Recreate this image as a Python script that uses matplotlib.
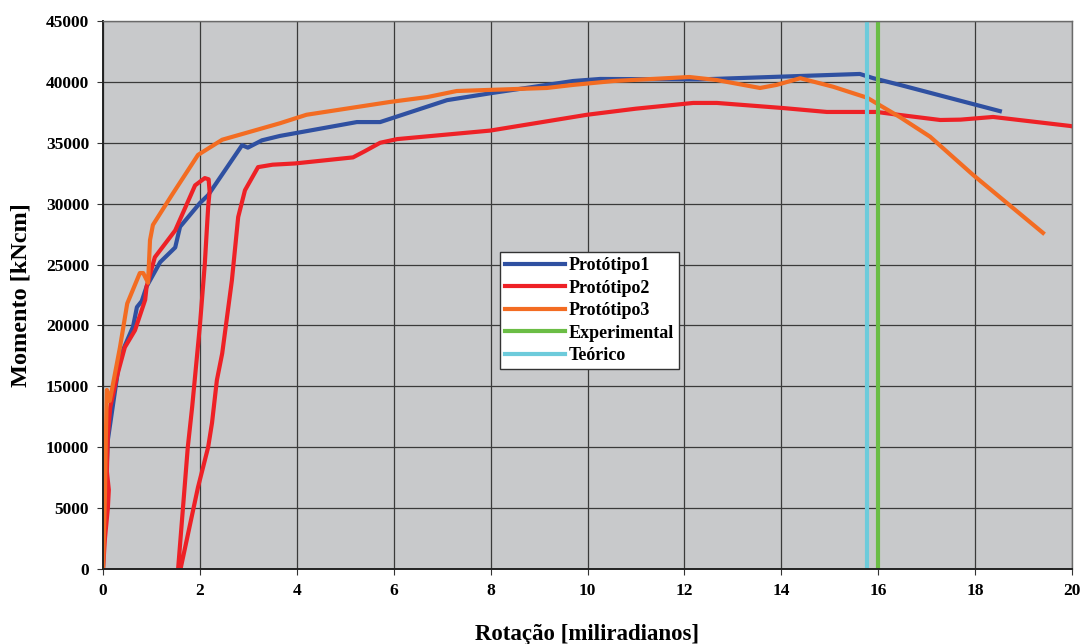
import matplotlib
matplotlib.use('Agg')
import matplotlib.pyplot as plt

# Protótipo1
p1_x = [0, 0.05, 0.1, 0.35, 0.62, 0.7, 0.8, 0.9, 1.18, 1.49, 1.59, 2.0, 2.17, 2.87, 2.99, 3.28,
        3.65, 5.24, 5.72, 7.1, 8.05, 9.7, 10.26, 12.3, 15.62, 15.9, 16.45, 18.51]
p1_y = [0, 6000, 10600, 17400, 19900, 21500, 22000, 23200, 25200, 26400, 28100, 30050, 30700, 34800, 34600, 35200,
        35560, 36700, 36700, 38500, 39100, 40070, 40240, 40200, 40650, 40300, 39750, 37600]

# Protótipo2
p2_x = [0, 0.04, 0.1, 0.12, 0.08, 0.1, 0.15, 0.3, 0.45, 0.66, 0.87, 0.9, 1.07, 1.49, 1.9, 2.1, 2.18, 2.2,
        2.17, 2.1, 2.0, 1.84, 1.75, 1.65, 1.55,
        1.6, 1.96, 2.17, 2.25, 2.35, 2.46, 2.66, 2.79, 2.93, 3.2, 3.5, 3.96,
        5.16, 5.4, 5.72, 6.07, 7.99, 9.99, 11.0, 12.18, 12.67, 14.04, 14.94, 15.97, 16.45,
        17.28, 17.7, 18.37, 19.96, 20.0]
p2_y = [0, 2500, 5000, 6500, 8000, 11000, 13300, 16000, 18200, 19600, 22100, 23200, 25600, 27800, 31500, 32100, 32000, 31000,
        29700, 25000, 20000, 13300, 10000, 5000, 0,
        0, 6700, 10000, 12000, 15500, 17700, 23700, 28900, 31100, 33000, 33200, 33300,
        33800, 34300, 35000, 35300, 36000, 37300, 37800, 38270, 38270, 37850, 37530, 37530, 37280,
        36870, 36900, 37120, 36380, 36350]

# Protótipo3
p3_x = [0, 0.04, 0.06, 0.08, 0.14, 0.35, 0.5, 0.76, 0.83, 0.93, 0.97, 1.03, 1.42, 1.96, 2.46,
        3.65, 4.2, 5.92, 6.69, 7.3, 9.16, 9.7, 10.53, 12.1, 12.67, 13.56, 13.9, 14.39, 15.07, 15.77,
        16.45, 17.07, 17.96, 19.4]
p3_y = [0, 6000, 11000, 14700, 13800, 18200, 21800, 24300, 24300, 23500, 27000, 28250, 30700, 34000, 35250,
        36600, 37300, 38350, 38750, 39250, 39500, 39750, 40070, 40400, 40150, 39500, 39750, 40300, 39600, 38700,
        37100, 35500, 32350, 27600]

x_experimental = 16.0
x_teorico = 15.77

x_ticks = list(range(0, 21, 2))
y_ticks = list(range(0, 45001, 5000))

plt.rcParams['font.family'] = ['Liberation Serif', 'DejaVu Serif']
plt.rcParams['font.weight'] = 'bold'

fig = plt.figure(figsize=(10.82, 6.44), dpi=100)
ax = fig.add_axes([0.0952, 0.1165, 0.8956, 0.8509])
ax.set_facecolor('#c8c9cb')

lw = 3.0
ax.plot(p1_x, p1_y, color='#2f50a1', lw=lw, label='Protótipo1', solid_joinstyle='round')
ax.plot(p2_x, p2_y, color='#ee2126', lw=lw, label='Protótipo2', solid_joinstyle='round')
ax.plot(p3_x, p3_y, color='#f36c22', lw=lw, label='Protótipo3', solid_joinstyle='round')
ax.axvline(x_experimental, color='#6bbd45', lw=lw, label='Experimental')
ax.axvline(x_teorico, color='#6dcbdb', lw=lw, label='Teórico')

ax.set_xlim(0, 20)
ax.set_ylim(0, 45000)
ax.set_xticks(x_ticks)
ax.set_yticks(y_ticks)
ax.grid(True, color='#3a3a3a', lw=0.9)
ax.set_axisbelow(True)
ax.tick_params(labelsize=12.5, length=4, color='#333333', pad=6)
for lab in ax.get_xticklabels() + ax.get_yticklabels():
    lab.set_fontweight('bold')

for side in ['top', 'right']:
    ax.spines[side].set_color('#6a6a6a')
    ax.spines[side].set_linewidth(1)
for side in ['left', 'bottom']:
    ax.spines[side].set_color('#222222')
    ax.spines[side].set_linewidth(1.4)

ax.set_xlabel('Rotação [miliradianos]', fontsize=16.5, fontweight='bold', labelpad=18)
ax.set_ylabel('Momento [kNcm]', fontsize=17.5, fontweight='bold', labelpad=10)

leg = ax.legend(loc='upper left', bbox_to_anchor=(0.4, 0.595), fontsize=13, frameon=True,
                fancybox=False, edgecolor='#333333', framealpha=1, handlelength=3.3,
                handletextpad=0.2, labelspacing=0.3, borderpad=0.3)
leg.get_frame().set_linewidth(1.0)
for t in leg.get_texts():
    t.set_fontweight('bold')

fig.savefig('out.png', dpi=100)
